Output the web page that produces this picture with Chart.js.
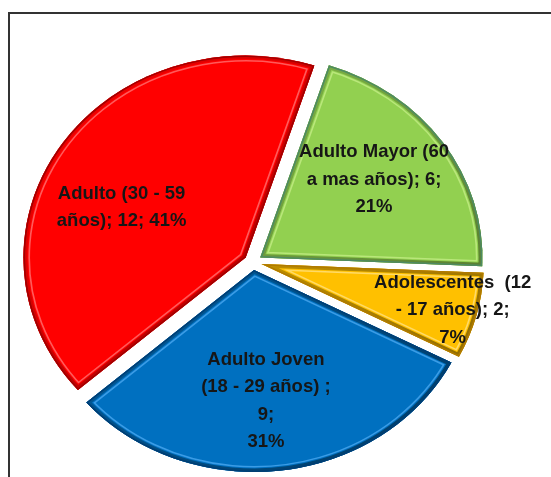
<!DOCTYPE html>
<html>
<head>
    <title>Grupos de edad</title>
    <script src="https://cdn.jsdelivr.net/npm/chart.js@4.4.1/dist/chart.umd.min.js"></script>
    <style>
        body { margin: 0; background: #fff; }
        .frame { position: absolute; left: 8px; top: 12px; width: 600px; height: 500px;
                 border-left: 2px solid #333; border-top: 2px solid #333; }
        #wrap { position: absolute; left: 0; top: 0; width: 551px; height: 477px; }
    </style>
</head>
<body>
    <div class="frame"></div>
    <div id="wrap"><canvas id="pie"></canvas></div>

    <script>
        // Age groups, clockwise from the top
        const categories = ['Adulto Mayor (60 a mas años)', 'Adolescentes (12 - 17 años)', 'Adulto Joven (18 - 29 años)', 'Adulto (30 - 59 años)'];
        const counts = [6, 2, 9, 12];
        // label text as broken onto lines; {v} = count, {p} = percent
        const labelLines = [
            ['Adulto Mayor (60', 'a mas años); {v};', '{p}%'],
            ['Adolescentes  (12', '- 17 años); {v};', '{p}%'],
            ['Adulto Joven', '(18 - 29 años) ;', '{v};', '{p}%'],
            ['Adulto (30 - 59', 'años); {v}; {p}%']
        ];

        const fills = ['#92D050', '#FFC000', '#0070C0', '#FF0000'];
        const lights = ['#B9E77A', '#FFDA66', '#3A9CE6', '#FF5A5A'];
        const edges = ['#4E8A63', '#B07A00', '#003E73', '#A00000'];
        const labelRadius = [0.68, 0.93, 0.69, 0.65];
        const labelNudge = [-2, 0, 2, -9];   // degrees
        const STRETCH_X = 1.1;
        const EXPLODE = 8;

        const total = counts.reduce((a, b) => a + b, 0);

        // draws the arcs ourselves so each one can be pulled out and bevelled
        const pieDraw = {
            id: 'pieDraw',
            beforeDatasetsDraw(chart) {
                const ctx = chart.ctx;
                chart.getDatasetMeta(0).data.forEach((arc, i) => {
                    const p = arc.getProps(['x', 'y', 'startAngle', 'endAngle', 'outerRadius'], true);
                    const mid = (p.startAngle + p.endAngle) / 2;
                    ctx.save();
                    ctx.translate(p.x, p.y);
                    ctx.scale(STRETCH_X, 1);
                    ctx.translate(Math.cos(mid) * EXPLODE, Math.sin(mid) * EXPLODE);
                    ctx.translate(-p.x, -p.y);
                    arc.draw(ctx);

                    ctx.beginPath();
                    ctx.moveTo(p.x, p.y);
                    ctx.arc(p.x, p.y, p.outerRadius, p.startAngle, p.endAngle);
                    ctx.closePath();
                    ctx.clip();
                    ctx.lineJoin = 'round';
                    ctx.lineWidth = 12;
                    ctx.strokeStyle = lights[i];
                    ctx.stroke();
                    ctx.lineWidth = 9;
                    ctx.strokeStyle = fills[i];
                    ctx.stroke();
                    // darker rim, heavier toward the lower right
                    const g = ctx.createLinearGradient(p.x - p.outerRadius, p.y - p.outerRadius, p.x + p.outerRadius, p.y + p.outerRadius);
                    g.addColorStop(0, 'rgba(0,0,0,0.0)');
                    g.addColorStop(1, 'rgba(0,0,0,0.5)');
                    ctx.lineWidth = 7;
                    ctx.strokeStyle = g;
                    ctx.stroke();
                    ctx.lineWidth = 3;
                    ctx.strokeStyle = edges[i];
                    ctx.stroke();
                    ctx.restore();
                });
                return false;
            },
            afterDraw(chart) {
                const ctx = chart.ctx;
                ctx.save();
                ctx.font = 'bold 18.5px "Liberation Sans", Arial, sans-serif';
                ctx.fillStyle = '#161616';
                ctx.textAlign = 'center';
                ctx.textBaseline = 'middle';
                chart.getDatasetMeta(0).data.forEach((arc, i) => {
                    const p = arc.getProps(['x', 'y', 'startAngle', 'endAngle', 'outerRadius'], true);
                    const a = (p.startAngle + p.endAngle) / 2 + labelNudge[i] * Math.PI / 180;
                    const r = p.outerRadius * labelRadius[i];
                    const cx = p.x + Math.cos(a) * r * STRETCH_X;
                    const cy = p.y + Math.sin(a) * r;
                    const pct = Math.round(counts[i] / total * 100);
                    const lines = labelLines[i].map(s => s.replace('{v}', counts[i]).replace('{p}', pct));
                    const lh = 27.5;
                    lines.forEach((s, k) => {
                        ctx.fillText(s, cx, cy + (k - (lines.length - 1) / 2) * lh);
                    });
                });
                ctx.restore();
            }
        };

        new Chart(document.getElementById('pie'), {
            type: 'pie',
            data: {
                labels: categories,
                datasets: [{
                    data: counts,
                    backgroundColor: fills,
                    borderWidth: 0
                }]
            },
            options: {
                responsive: true,
                maintainAspectRatio: false,
                animation: false,
                rotation: 18,
                radius: 202,
                layout: { padding: { left: 0, right: 45, top: 47, bottom: 0 } },
                plugins: { legend: { display: false }, tooltip: { enabled: false } }
            },
            plugins: [pieDraw]
        });
    </script>
</body>
</html>
